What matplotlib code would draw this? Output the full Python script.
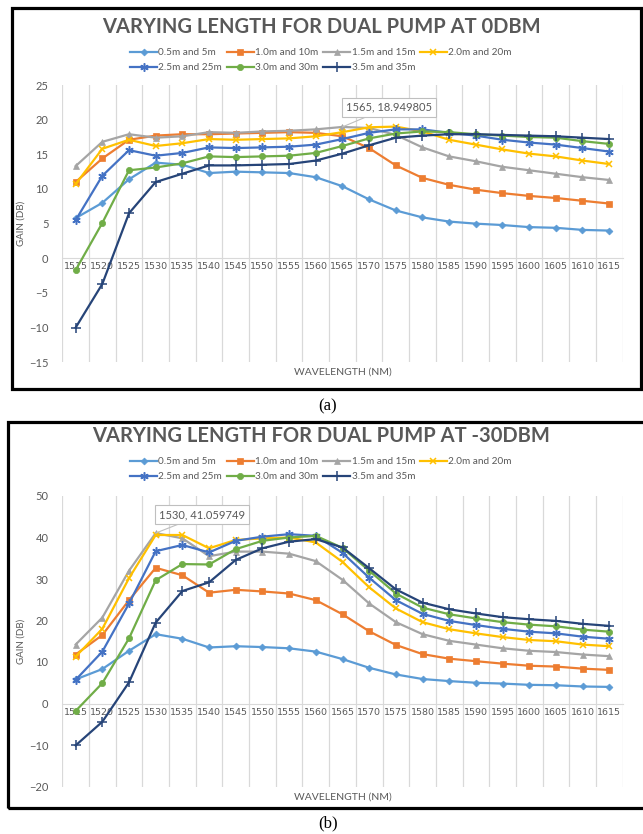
import numpy as np
import matplotlib
matplotlib.use("Agg")
import matplotlib.pyplot as plt
from matplotlib.patches import Rectangle

plt.rcParams['font.family'] = ['Lato', 'DejaVu Sans']

# datos
wavelengths = [str(w) for w in range(1515, 1616, 5)]
series_names = ["0.5m and 5m", "1.0m and 10m", "1.5m and 15m", "2.0m and 20m",
                "2.5m and 25m", "3.0m and 30m", "3.5m and 35m"]

# (a) bomba dual a 0 dBm
gain_a_05 = [5.8, 8.0, 11.4, 13.8, 13.5, 12.3, 12.5, 12.4, 12.3, 11.7, 10.4,
             8.5, 6.9, 5.9, 5.3, 5.0, 4.8, 4.5, 4.4, 4.1, 4.0]
gain_a_10 = [11.0, 14.4, 17.1, 17.7, 17.9, 17.9, 18.0, 18.1, 18.2, 18.1, 17.6,
             15.9, 13.4, 11.6, 10.6, 9.9, 9.4, 9.0, 8.7, 8.3, 7.9]
gain_a_15 = [13.3, 16.8, 17.9, 17.4, 17.6, 18.2, 18.1, 18.3, 18.4, 18.6, 18.949805,
             18.8, 17.8, 16.0, 14.7, 14.0, 13.2, 12.7, 12.2, 11.7, 11.3]
gain_a_20 = [10.7, 15.8, 17.1, 16.2, 16.6, 17.2, 17.1, 17.2, 17.3, 17.6, 18.2,
             18.9, 19.0, 18.3, 17.1, 16.4, 15.7, 15.1, 14.7, 14.1, 13.6]
gain_a_25 = [5.5, 11.9, 15.6, 14.8, 15.2, 16.0, 15.9, 16.0, 16.1, 16.4, 17.2,
             18.1, 18.6, 18.6, 18.1, 17.7, 17.1, 16.7, 16.4, 15.9, 15.4]
gain_a_30 = [-1.7, 5.1, 12.7, 13.1, 13.7, 14.7, 14.6, 14.7, 14.8, 15.2, 16.2,
             17.3, 18.0, 18.3, 18.2, 17.9, 17.7, 17.5, 17.4, 16.9, 16.5]
gain_a_35 = [-10.0, -3.7, 6.5, 11.0, 12.2, 13.4, 13.4, 13.5, 13.6, 14.1, 15.1,
             16.3, 17.4, 17.7, 17.9, 17.9, 17.8, 17.7, 17.6, 17.4, 17.2]

# (b) bomba dual a -30 dBm
gain_b_05 = [5.8, 8.3, 12.7, 16.7, 15.6, 13.5, 13.8, 13.6, 13.3, 12.5, 10.7,
             8.6, 7.0, 5.9, 5.4, 5.0, 4.8, 4.5, 4.4, 4.1, 4.0]
gain_b_10 = [11.8, 16.5, 24.9, 32.7, 30.9, 26.7, 27.4, 27.0, 26.5, 24.9, 21.5,
             17.4, 14.1, 11.9, 10.8, 10.2, 9.6, 9.1, 8.9, 8.4, 8.1]
gain_b_15 = [14.2, 20.7, 32.0, 41.059749, 39.8, 35.5, 36.6, 36.6, 36.1, 34.3, 29.8,
             24.1, 19.6, 16.7, 15.1, 14.2, 13.3, 12.7, 12.4, 11.8, 11.4]
gain_b_20 = [11.3, 18.0, 30.2, 40.6, 40.6, 37.4, 39.4, 39.8, 40.0, 38.8, 34.1,
             28.0, 22.9, 19.6, 17.9, 16.9, 16.0, 15.3, 15.0, 14.2, 13.8]
gain_b_25 = [5.7, 12.5, 24.1, 36.7, 38.2, 36.4, 39.2, 40.2, 40.8, 40.4, 36.3,
             30.3, 24.9, 21.6, 19.9, 18.9, 18.0, 17.3, 16.9, 16.1, 15.6]
gain_b_30 = [-1.8, 4.9, 15.7, 29.7, 33.6, 33.5, 37.2, 39.2, 40.0, 40.4, 37.5,
             32.0, 26.5, 23.1, 21.5, 20.5, 19.6, 19.0, 18.6, 17.8, 17.3]
gain_b_35 = [-10.1, -4.4, 5.1, 19.5, 27.1, 29.2, 34.6, 37.4, 39.0, 39.6, 37.6,
             32.6, 27.5, 24.3, 22.7, 21.7, 20.8, 20.3, 19.9, 19.2, 18.7]

colores = ['#5B9BD5', '#ED7D31', '#A5A5A5', '#FFC000', '#4472C4', '#70AD47', '#264478']
marcadores = ['D', 's', '^', 'x', (6, 2, 0), 'o', '+']
tam_marc = [3.5, 4, 4.5, 5, 6, 4.5, 6.5]
GRIS = '#595959'

W, H = 643, 834
fig = plt.figure(figsize=(W / 100, H / 100), dpi=100)


def caja(x0, y0, x1, y1):
    # marco negro alrededor de cada panel (coordenadas en pixeles)
    fig.patches.append(Rectangle((x0 / W, 1 - y1 / H), (x1 - x0) / W, (y1 - y0) / H,
                                 transform=fig.transFigure, fill=False,
                                 edgecolor='black', linewidth=2.3, zorder=0))


def dibujar(datos, rect, ylim, ystep, titulo, title_y, leg_y):
    ax = fig.add_axes(rect)
    x = np.arange(len(wavelengths))
    lineas = []
    for i, serie in enumerate(datos):
        grueso = marcadores[i] in ['x', '+'] or isinstance(marcadores[i], tuple)
        ln, = ax.plot(x, serie, color=colores[i], marker=marcadores[i],
                      markersize=tam_marc[i], linewidth=1.6,
                      markeredgewidth=1.1 if grueso else 0.5,
                      label=series_names[i], zorder=3)
        lineas.append(ln)
    ax.set_xlim(-0.5, len(wavelengths) - 0.5)
    ax.set_ylim(*ylim)
    ax.set_yticks(np.arange(ylim[0], ylim[1] + 1, ystep))
    ax.set_xticks(x)
    ax.set_xticklabels(wavelengths)
    ax.set_xticks(np.arange(-0.5, len(wavelengths), 1), minor=True)
    ax.grid(which='minor', axis='x', color='#D9D9D9', linewidth=0.9)
    ax.tick_params(axis='x', which='both', length=0, pad=3, labelsize=6.8,
                   labelcolor=GRIS, labelfontfamily='DejaVu Sans')
    ax.tick_params(axis='y', length=0, labelsize=8, labelcolor=GRIS, pad=10)
    for s in ['left', 'top', 'right']:
        ax.spines[s].set_visible(False)
    ax.spines['bottom'].set_position(('data', 0))
    ax.spines['bottom'].set_color('#D9D9D9')
    ax.set_ylabel("GAIN (DB)", fontsize=7, color=GRIS)
    ax.yaxis.set_label_coords(-0.066, 0.5)
    ax.text(0.5, -0.02, "WAVELENGTH (NM)", transform=ax.transAxes, ha='center',
            va='top', fontsize=7.5, color=GRIS)
    fig.text(321 / W, 1 - title_y / H, titulo, ha='center', va='center',
             fontsize=14.5, fontweight='bold', color=GRIS)
    orden = [0, 4, 1, 5, 2, 6, 3]
    fig.legend([lineas[i] for i in orden], [series_names[i] for i in orden],
               ncol=4, loc='upper left', bbox_to_anchor=(130 / W, 1 - leg_y / H),
               frameon=False, fontsize=7.2, labelcolor=GRIS, handlelength=2.7,
               handletextpad=0.15, columnspacing=0.45, labelspacing=0.6,
               borderpad=0, borderaxespad=0)
    return ax


def etiqueta(ax, texto, xy, xytext):
    ax.annotate(texto, xy=xy, xytext=xytext, ha='center', va='center', fontsize=8,
                color=GRIS, zorder=5,
                bbox=dict(boxstyle='square,pad=0.35', fc='white', ec='#BFBFBF', lw=0.8),
                arrowprops=dict(arrowstyle='-', color='#BFBFBF', lw=0.8,
                                shrinkA=0, shrinkB=0))


caja(12, 8, 641, 389)
caja(8, 422, 646, 808)

datos_a = [gain_a_05, gain_a_10, gain_a_15, gain_a_20, gain_a_25, gain_a_30, gain_a_35]
datos_b = [gain_b_05, gain_b_10, gain_b_15, gain_b_20, gain_b_25, gain_b_30, gain_b_35]

rect_a = [62.3 / W, 1 - 362.3 / H, 560.2 / W, 277.3 / H]
rect_b = [62.3 / W, 1 - 786.5 / H, 560.4 / W, 290.5 / H]

ax_a = dibujar(datos_a, rect_a, (-15, 25), 5, "VARYING LENGTH FOR DUAL PUMP AT 0DBM", 27, 48)
ax_b = dibujar(datos_b, rect_b, (-20, 50), 10, "VARYING LENGTH FOR DUAL PUMP AT -30DBM", 436, 457)

etiqueta(ax_a, "1565, 18.949805", (10, gain_a_15[10]), (11.75, 21.8))
etiqueta(ax_b, "1530, 41.059749", (3, gain_b_15[3]), (4.75, 45.5))

fig.text(328 / W, 1 - 406 / H, "(a)", ha='center', va='center', fontsize=12,
         family='Liberation Serif')
fig.text(328 / W, 1 - 823 / H, "(b)", ha='center', va='center', fontsize=12,
         family='Liberation Serif')

fig.savefig("out.png", dpi=100)
